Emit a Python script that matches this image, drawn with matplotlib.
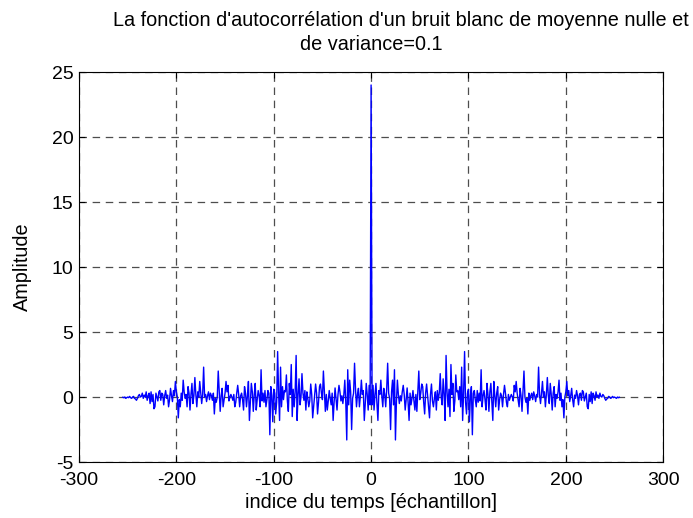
import numpy as np
import matplotlib
matplotlib.use('Agg')
import matplotlib.pyplot as plt

plt.rcParams['font.family'] = ['Liberation Sans', 'DejaVu Sans']
plt.rcParams['axes.unicode_minus'] = False

# autocorrelation values, lags 1..255 (the curve is symmetric about lag 0)
peak = 24.0
pos = [
    -0.6, 0.9, -1.0, 0.2, 1.05, -0.5, -1.8, 0.5, 0.2, 1.3,
    0.1, -0.75, 0.67, 0.2, -0.75, 0.6, 2.6, 0.3, -0.1, -2.5,
    0.4, 1.3, -0.6, 2.1, -3.3, -0.4, 1.3, 0.2, -0.5, 0.1,
    -0.3, 0.4, 0.9, 0.2, -1.0, -0.2, 0.7, -0.4, -1.8, 0.3,
    -0.6, -0.1, 0.5, -0.3, -1.0, 0.2, -1.1, 0.5, 2.0, -0.2,
    0.3, 1.0, 0.8, -0.4, -1.3, 0.3, 1.0, 0.1, -0.75, -1.6,
    0.2, 1.0, -0.3, -0.75, -0.1, 0.4, -1.0, 0.5, -0.25, 0.3,
    1.8, 0.0, -0.6, 1.4, 0.2, -1.8, 3.2, 0.4, -0.75, 0.6,
    -1.5, 2.5, 0.2, 1.05, -1.1, -0.3, 1.7, 0.4, 0.5, -0.2,
    0.8, -0.75, 2.3, -1.8, 0.3, 3.5, -0.4, -1.3, 0.3, 0.6,
    -1.9, 0.1, 0.8, -2.9, 0.3, 0.5, -0.2, -0.75, 0.5, -0.4,
    0.3, -0.3, 2.1, -0.75, 0.1, 0.5, -0.2, -1.0, 1.05, 0.2,
    -1.1, 0.4, 1.05, -0.3, -1.8, 1.2, 0.1, -0.75, 0.3, 0.8,
    -1.0, -0.2, 0.3, 0.1, -0.75, 0.2, 0.9, 0.3, -0.4, -0.75,
    0.2, -0.25, 0.0, 0.2, 0.0, -0.3, 0.9, 0.4, 1.2, 0.3,
    -0.2, -0.75, 0.67, 0.1, -1.1, 0.5, 2.0, 0.0, -0.4, -0.1,
    -1.3, 0.3, -0.25, 0.1, 0.3, -0.2, 0.4, 0.1, -0.35, 0.2,
    0.0, 2.3, 0.2, -0.5, 0.3, 1.2, 0.0, 0.4, -0.75, 0.2,
    1.5, 0.1, -0.5, 1.05, 0.2, -1.0, 0.3, 0.8, -0.75, 0.2,
    -0.1, 0.4, 1.3, -0.25, 0.3, -0.75, -0.2, -1.6, 0.0, 0.4,
    1.2, 0.1, 0.5, -0.35, 0.1, 0.67, -0.2, -0.75, 0.15, -0.1,
    0.5, 0.1, -0.6, 0.2, 0.3, -0.25, 0.5, 0.4, -0.3, 0.0,
    0.3, -0.75, -0.9, 0.2, -0.35, 0.4, -0.5, 0.3, 0.1, -0.25,
    0.4, 0.0, 0.15, -0.1, 0.3, 0.05, 0.0, 0.2, 0.1, -0.1,
    -0.25, -0.15, -0.1, 0.05, 0.0, -0.1, -0.05, 0.05, -0.05, 0.0,
    -0.05, -0.1, 0.0, -0.05, -0.02,
]
pos = np.array(pos)
vals = np.concatenate([pos[::-1], [peak], pos])
lags = np.arange(-len(pos), len(pos) + 1)

xticks = [-300, -200, -100, 0, 100, 200, 300]
yticks = [-5, 0, 5, 10, 15, 20, 25]
title1 = "La fonction d'autocorrélation d'un bruit blanc de moyenne nulle et"
title2 = "de variance=0.1"

W, H = 693, 518
fig = plt.figure(figsize=(W / 100, H / 100), dpi=100)
ax = fig.add_axes([0.114, 0.108, 0.843, 0.753])
ax.plot(lags, vals, color='#0000ff', lw=1.0)
ax.set_xlim(-300, 300)
ax.set_ylim(-5, 25)
ax.set_xticks(xticks)
ax.set_yticks(yticks)
ax.grid(True, color='0.3', linestyle=(0, (6, 4.5)), linewidth=0.9)
ax.tick_params(direction='in', top=True, right=True, labelsize=14, length=4)
ax.tick_params(axis='x', pad=7)
ax.tick_params(axis='y', pad=4)
for s in ax.spines.values():
    s.set_linewidth(0.8)
# title: first line sits right of centre in the reference, second one is centred on the axes
fig.text(113 / W, 1 - 20 / H, title1, fontsize=14.3, ha='left', va='center')
fig.text(371 / W, 1 - 44 / H, title2, fontsize=14.3, ha='center', va='center')
ax.set_xlabel('indice du temps [échantillon]', fontsize=14.3, labelpad=3)
ax.set_ylabel('Amplitude', fontsize=14.3, labelpad=14)

fig.savefig('out.png', dpi=100)
